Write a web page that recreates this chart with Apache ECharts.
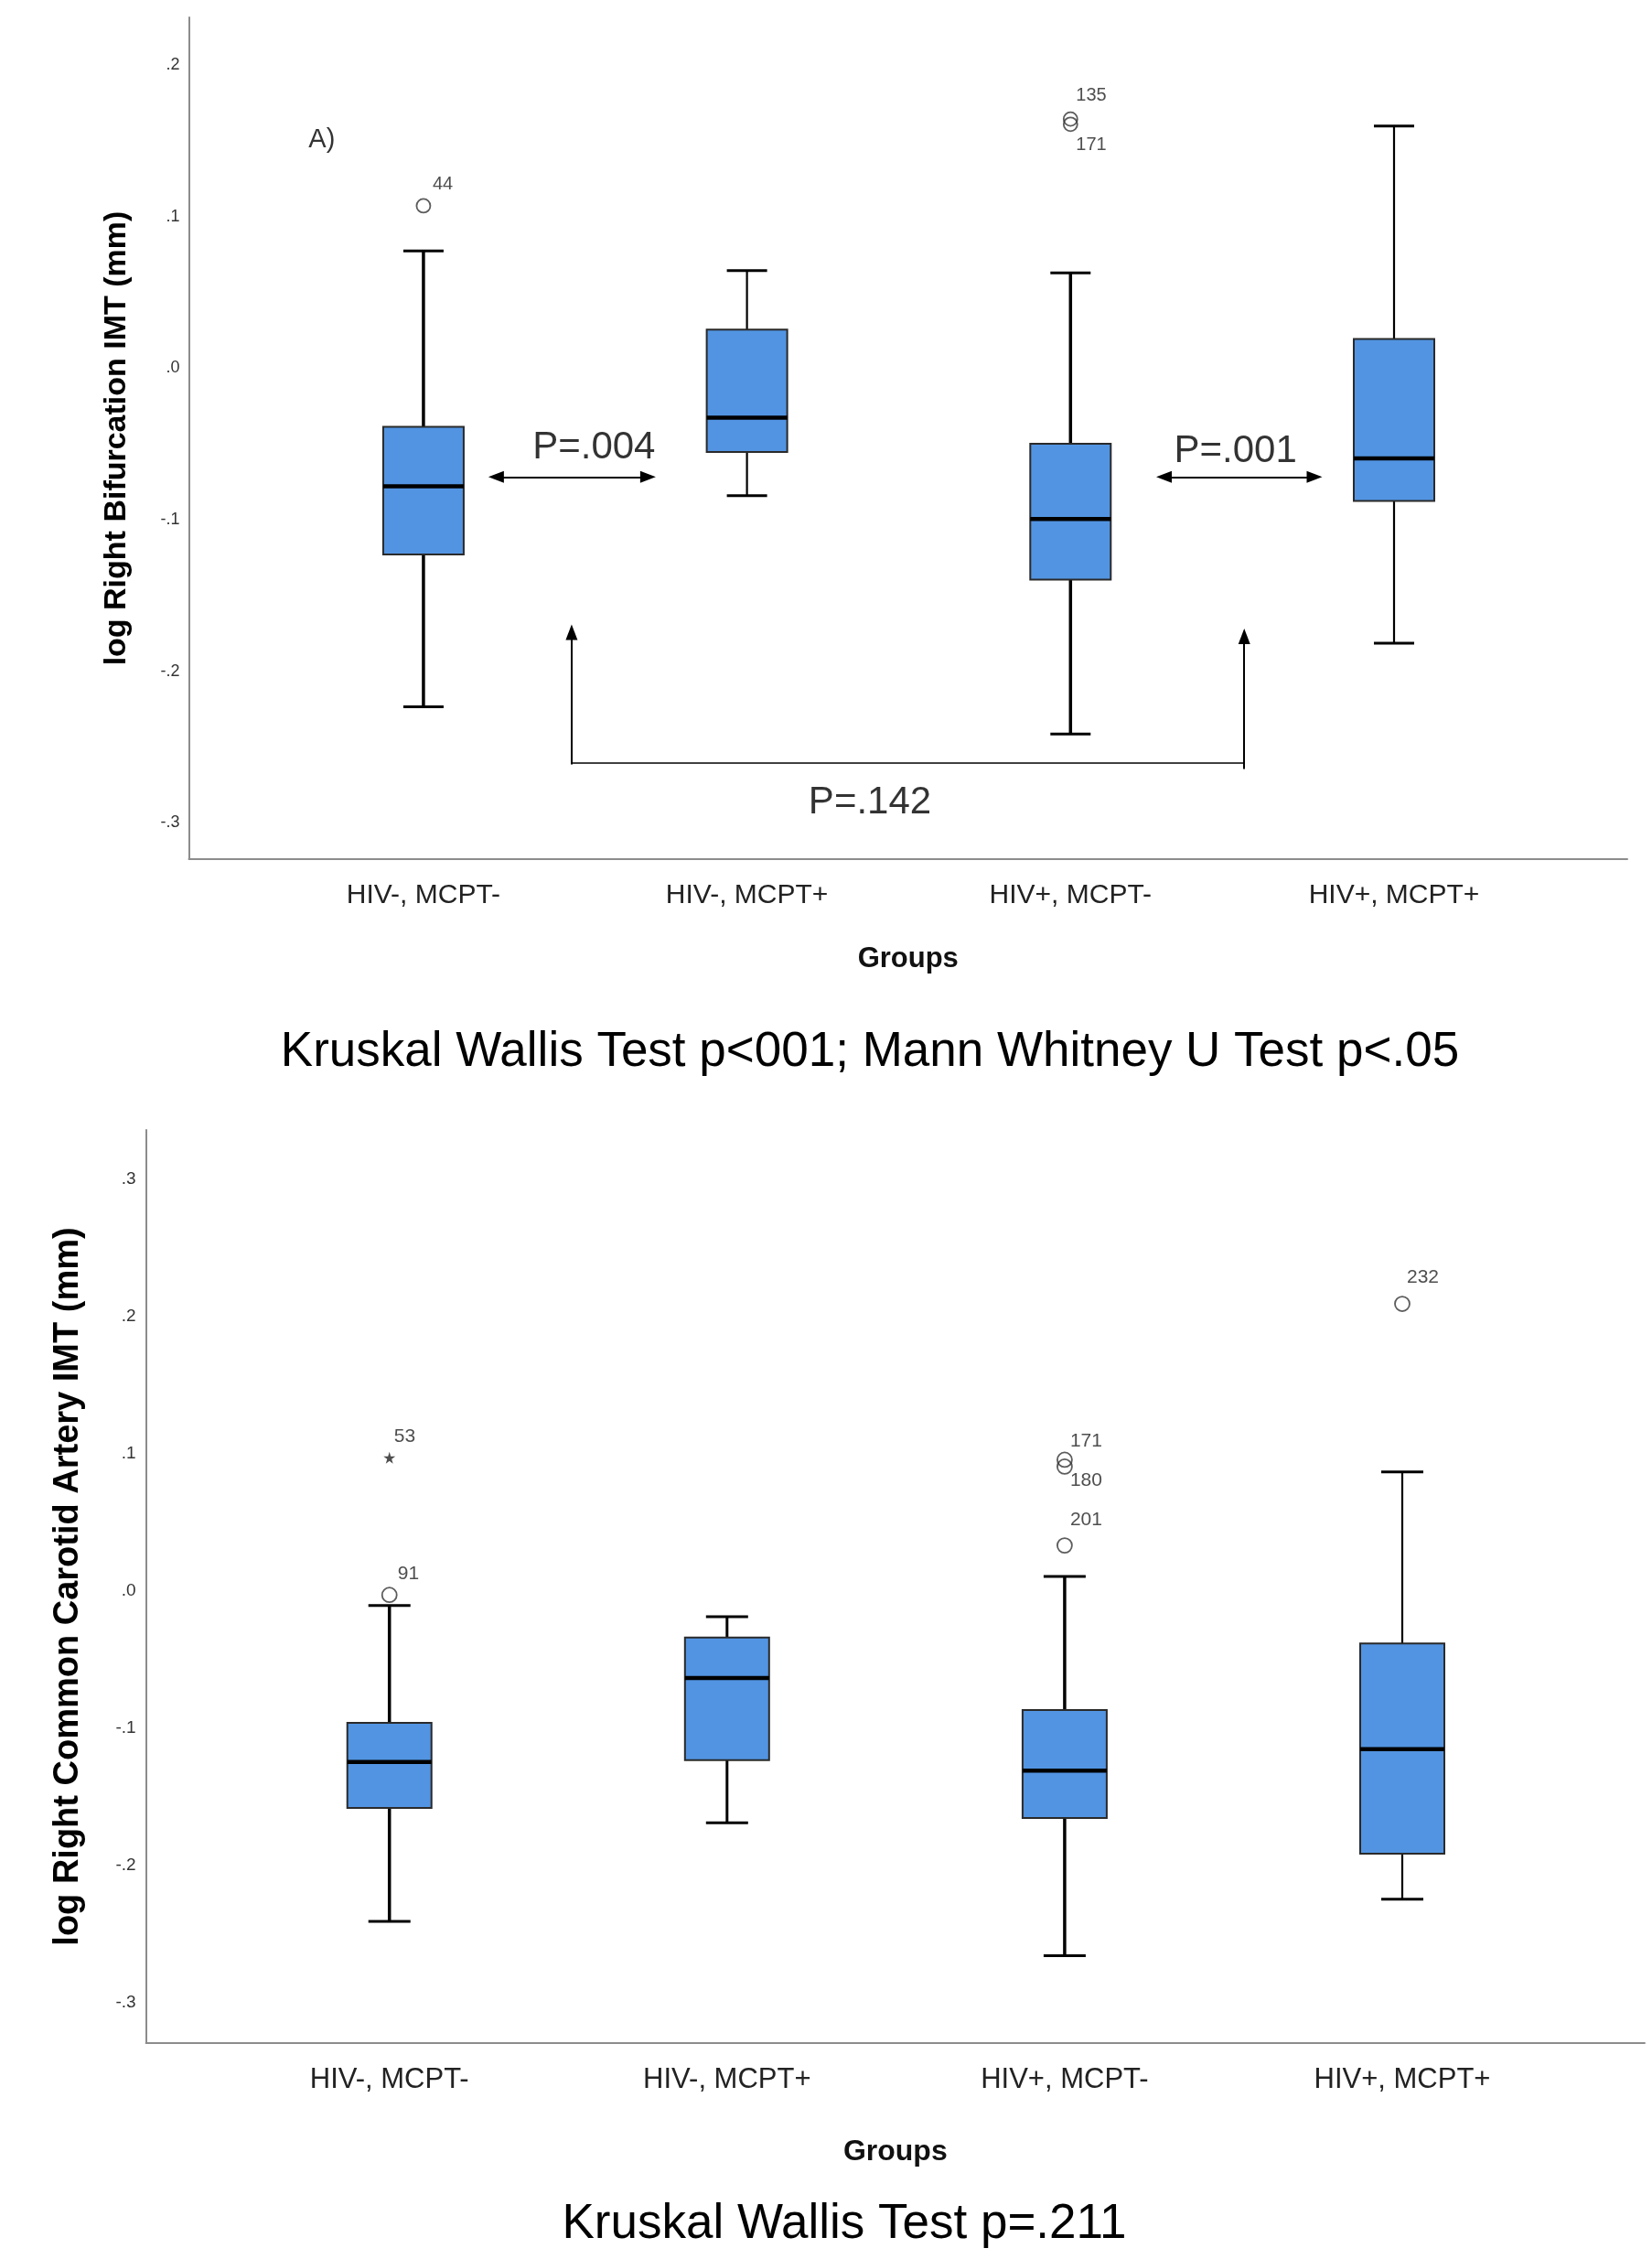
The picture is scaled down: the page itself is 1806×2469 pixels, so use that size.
<!DOCTYPE html>
<html>
<head>
<meta charset="utf-8">
<script src="https://cdn.jsdelivr.net/npm/echarts@6/dist/echarts.min.js"></script>
<style>
html,body{margin:0;padding:0;background:#ffffff;}
#c{width:1806px;height:2469px;}
</style>
</head>
<body>
<div id="c"></div>
<script>
// ---------- data ----------
const categories = ['HIV-, MCPT-', 'HIV-, MCPT+', 'HIV+, MCPT-', 'HIV+, MCPT+'];
const yTicksA = [-0.3, -0.2, -0.1, 0, 0.1, 0.2];
const yTicksB = [-0.3, -0.2, -0.1, 0, 0.1, 0.2, 0.3];

// Panel A: log Right Bifurcation IMT (mm)
const bifMin    = [-0.2235, -0.0842, -0.2415, -0.1815];
const bifQ1     = [-0.1230, -0.0554, -0.1396, -0.0877];
const bifMedian = [-0.0781, -0.0327, -0.0996, -0.0596];
const bifQ3     = [-0.0388,  0.0254, -0.0500,  0.0192];
const bifMax    = [ 0.0773,  0.0642,  0.0627,  0.1596];
const bifOutGroup = [0, 2, 2];
const bifOutValue = [0.1070, 0.1642, 0.1608];
const bifOutId    = ['44', '135', '171'];

// Panel B: log Right Common Carotid Artery IMT (mm)
const ccaMin    = [-0.2409, -0.1690, -0.2660, -0.2247];
const ccaQ1     = [-0.1583, -0.1234, -0.1656, -0.1915];
const ccaMedian = [-0.1247, -0.0634, -0.1310, -0.1153];
const ccaQ3     = [-0.0962, -0.0340, -0.0868, -0.0383];
const ccaMax    = [-0.0106, -0.0188,  0.0106,  0.0868];
const ccaOutGroup = [0, 0, 2, 2, 2, 3];
const ccaOutValue = [0.0972, -0.0029, 0.0957, 0.0907, 0.0332, 0.2094];
const ccaOutId    = ['53', '91', '171', '180', '201', '232'];
const ccaOutKind  = ['extreme', 'outlier', 'outlier', 'outlier', 'outlier', 'outlier'];

// Annotation texts (panel A)
const annText = ['A)', 'P=.004', 'P=.001', 'P=.142'];
const annX    = [-0.314, 0.527, 2.510, 1.380];
const annY    = [0.1507, -0.0529, -0.0548, -0.2868];

const captionA = 'Kruskal Wallis Test p<001; Mann Whitney U Test p<.05';
const captionB = 'Kruskal Wallis Test p=.211';

// ---------- styles ----------
const FONT = '"Liberation Sans", Arial, Helvetica, sans-serif';
const BOX_FILL = '#5294e2';
const styleA = { boxWidth: 88, capWidth: 44, whisker: [3.5, 2.2, 3.5, 2.2], font: 18, catFont: 30, outFont: 20, sym: 15 };
const styleB = { boxWidth: 92, capWidth: 46, whisker: [3.5, 3, 3.5, 2.2], font: 19, catFont: 31, outFont: 21, sym: 16 };
const bifOutOffset = [[10, -23], [6, -26], [6, 23]];
const ccaOutOffset = [[5, -23], [9, -23], [6, -20], [6, 15], [6, -28], [5, -29]];
const annFont = [29, 42, 42, 42];

function tickFmt(v) {
  let s = (Math.round(v * 10) / 10).toFixed(1);
  return s.replace('0.', '.');
}

function boxRows(mn, q1, md, q3, mx) {
  return categories.map((c, i) => [i, mn[i], q1[i], md[i], q3[i], mx[i]]);
}

function boxRenderer(st) {
  return function (params, api) {
    const i = api.value(0);
    const lo = api.coord([i, api.value(1)]);
    const q1 = api.coord([i, api.value(2)]);
    const md = api.coord([i, api.value(3)]);
    const q3 = api.coord([i, api.value(4)]);
    const hi = api.coord([i, api.value(5)]);
    const cx = lo[0];
    const bw = st.boxWidth, cw = st.capWidth, ww = st.whisker[params.dataIndex];
    const ln = (x1, y1, x2, y2, w) => ({ type: 'line', shape: { x1, y1, x2, y2 }, style: { stroke: '#000', lineWidth: w } });
    return {
      type: 'group',
      children: [
        ln(cx, hi[1], cx, q3[1], ww),
        ln(cx, q1[1], cx, lo[1], ww),
        ln(cx - cw / 2, hi[1], cx + cw / 2, hi[1], 3),
        ln(cx - cw / 2, lo[1], cx + cw / 2, lo[1], 3),
        { type: 'rect', shape: { x: cx - bw / 2, y: q3[1], width: bw, height: q1[1] - q3[1] },
          style: { fill: BOX_FILL, stroke: '#2a2a2a', lineWidth: 2 } },
        ln(cx - bw / 2, md[1], cx + bw / 2, md[1], 4.5)
      ]
    };
  };
}

const STAR = 'path://M50,0 L61,35 L98,35 L68,57 L79,91 L50,70 L21,91 L32,57 L2,35 L39,35 Z';

function outlierData(groups, values, ids, offsets, st, kinds) {
  return groups.map((g, i) => {
    const extreme = kinds && kinds[i] === 'extreme';
    return {
      value: [g, values[i]],
      symbol: extreme ? STAR : 'circle',
      symbolSize: extreme ? 13 : st.sym,
      itemStyle: extreme ? { color: '#222', borderWidth: 0 } : { color: 'rgba(0,0,0,0)', borderColor: '#333', borderWidth: 1.8 },
      label: {
        show: true, formatter: ids[i], position: 'inside', align: 'left', verticalAlign: 'middle',
        offset: offsets[i], fontSize: st.outFont, color: '#222', fontFamily: FONT
      }
    };
  });
}

function xAxisDef(grid, min, max, st, gap, margin) {
  return {
    gridIndex: grid, type: 'value', min: min, max: max,
    name: 'Groups', nameLocation: 'middle', nameGap: gap,
    nameTextStyle: { fontSize: st.catFont + 1, fontWeight: 'bold', color: '#111', fontFamily: FONT },
    axisLine: { show: true, onZero: false, lineStyle: { color: '#8c8c8c', width: 2 } },
    axisTick: { show: false },
    splitLine: { show: false },
    axisLabel: {
      customValues: [0, 1, 2, 3], margin: margin,
      formatter: v => categories[Math.round(v)] || '',
      fontSize: st.catFont, color: '#222', fontFamily: FONT
    }
  };
}

function yAxisDef(grid, min, max, ticks, st, name, nameSize, gap, margin) {
  return {
    gridIndex: grid, type: 'value', min: min, max: max,
    name: name, nameLocation: 'middle', nameGap: gap, nameRotate: 90,
    nameTextStyle: { fontSize: nameSize, fontWeight: 'bold', color: '#000', fontFamily: FONT },
    axisLine: { show: true, onZero: false, lineStyle: { color: '#8c8c8c', width: 2 } },
    axisTick: { show: false },
    splitLine: { show: false },
    axisLabel: { customValues: ticks, formatter: tickFmt, margin: margin, fontSize: st.font, color: '#333', fontFamily: FONT }
  };
}

const arrowLine = { color: '#000', width: 2, type: 'solid' };

const option = {
  animation: false,
  backgroundColor: '#ffffff',
  grid: [
    { left: 206.5, top: 19, width: 1572.5, height: 920 },
    { left: 159.6, top: 1235, width: 1638.4, height: 998 }
  ],
  xAxis: [
    xAxisDef(0, -0.725, 3.721, styleA, 93.5, 25),
    xAxisDef(1, -0.721, 3.718, styleB, 103, 25)
  ],
  yAxis: [
    yAxisDef(0, -0.324, 0.2313, yTicksA, styleA, 'log Right Bifurcation IMT (mm)', 34, 62, 10),
    yAxisDef(1, -0.3297, 0.3362, yTicksB, styleB, 'log Right Common Carotid Artery IMT (mm)', 38, 66, 11)
  ],
  graphic: [
    { type: 'text', x: 951, y: 1150, style: { text: captionA, font: '53px ' + FONT, fill: '#000', textAlign: 'center', textVerticalAlign: 'middle' } },
    { type: 'text', x: 923, y: 2431, style: { text: captionB, font: '53px ' + FONT, fill: '#000', textAlign: 'center', textVerticalAlign: 'middle' } }
  ],
  series: [
    {
      type: 'custom', xAxisIndex: 0, yAxisIndex: 0,
      renderItem: boxRenderer(styleA),
      encode: { x: 0, y: [1, 2, 3, 4, 5] },
      data: boxRows(bifMin, bifQ1, bifMedian, bifQ3, bifMax), z: 2
    },
    {
      type: 'scatter', xAxisIndex: 0, yAxisIndex: 0, z: 4, silent: true,
      data: outlierData(bifOutGroup, bifOutValue, bifOutId, bifOutOffset, styleA, null)
    },
    {
      type: 'scatter', xAxisIndex: 0, yAxisIndex: 0, z: 5, silent: true,
      symbolSize: 0,
      data: annText.map((t, i) => ({
        value: [annX[i], annY[i]],
        label: { show: true, formatter: t, position: 'inside', fontSize: annFont[i], color: '#000', fontFamily: FONT }
      })),
      markLine: {
        silent: true, animation: false,
        symbol: ['triangle', 'triangle'], symbolSize: [13, 17],
        lineStyle: arrowLine,
        label: { show: false },
        emphasis: { disabled: true },
        data: [
          [{ coord: [0.2247, -0.0719] }, { coord: [0.694, -0.0719] }],
          [{ coord: [2.289, -0.0719] }, { coord: [2.754, -0.0719] }],
          [{ coord: [0.458, -0.2615], symbol: 'none' }, { coord: [0.458, -0.1743], symbol: 'triangle' }],
          [{ coord: [0.458, -0.2604], symbol: 'none', lineStyle: { color: '#000', width: 1.5, type: 'solid' } },
           { coord: [2.537, -0.2604], symbol: 'none', lineStyle: { color: '#000', width: 1.5, type: 'solid' } }],
          [{ coord: [2.537, -0.2646], symbol: 'none' }, { coord: [2.537, -0.1771], symbol: 'triangle' }]
        ]
      }
    },
    {
      type: 'custom', xAxisIndex: 1, yAxisIndex: 1,
      renderItem: boxRenderer(styleB),
      encode: { x: 0, y: [1, 2, 3, 4, 5] },
      data: boxRows(ccaMin, ccaQ1, ccaMedian, ccaQ3, ccaMax), z: 2
    },
    {
      type: 'scatter', xAxisIndex: 1, yAxisIndex: 1, z: 4, silent: true,
      data: outlierData(ccaOutGroup, ccaOutValue, ccaOutId, ccaOutOffset, styleB, ccaOutKind)
    }
  ]
};

const chart = echarts.init(document.getElementById('c'), null, { renderer: 'canvas' });
chart.setOption(option);
</script>
</body>
</html>
